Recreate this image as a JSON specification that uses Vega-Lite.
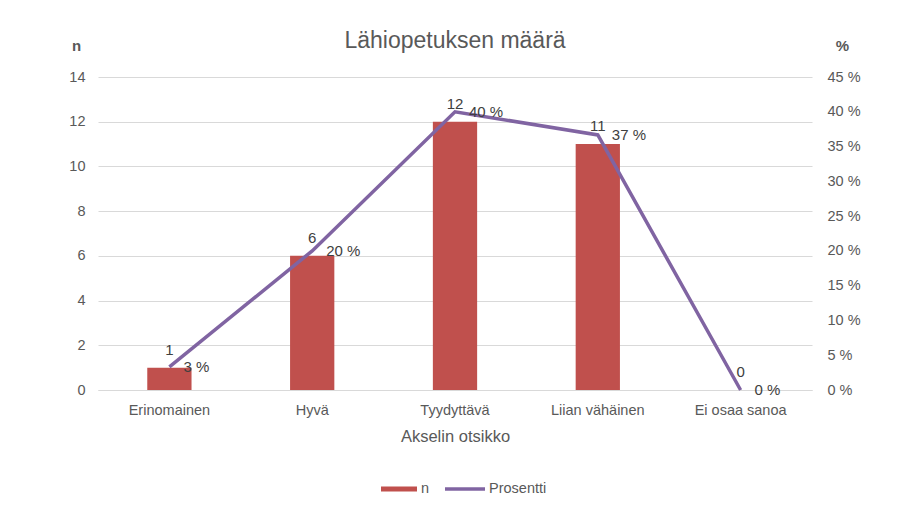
{
  "$schema": "https://vega.github.io/schema/vega-lite/v6.json",
  "width": 714,
  "height": 313,
  "autosize": {"type": "none"},
  "padding": {"left": 98, "top": 77, "right": 94, "bottom": 123},
  "background": "white",
  "config": {
    "font": "Liberation Sans",
    "view": {"stroke": null},
    "axis": {"labelColor": "#595959", "titleColor": "#595959", "labelFontSize": 14.5, "titleFontWeight": "normal", "ticks": false, "domain": false, "labelFont": "Liberation Sans", "titleFont": "Liberation Sans", "labelOverlap": false},
    "legend": {"labelColor": "#595959", "labelFontSize": 14.5, "labelFont": "Liberation Sans"}
  },
  "title": {"text": "Lähiopetuksen määrä", "fontSize": 23, "fontWeight": "normal", "color": "#595959", "anchor": "middle", "frame": "group", "font": "Liberation Sans", "dy": 19},
  "data": {
    "values": [
      {"Kategoria": "Erinomainen", "n": 1, "Prosentti": 3.33},
      {"Kategoria": "Hyvä", "n": 6, "Prosentti": 20},
      {"Kategoria": "Tyydyttävä", "n": 12, "Prosentti": 40},
      {"Kategoria": "Liian vähäinen", "n": 11, "Prosentti": 36.67},
      {"Kategoria": "Ei osaa sanoa", "n": 0, "Prosentti": 0}
    ]
  },
  "transform": [{"calculate": "format(datum.Prosentti, '.0f') + ' %'", "as": "pctLabel"}],
  "encoding": {
    "x": {
      "field": "Kategoria", "type": "nominal", "sort": null,
      "scale": {"paddingInner": 0, "paddingOuter": 0},
      "axis": {"labelAngle": 0, "title": "Akselin otsikko", "titleFontSize": 16.5, "labelPadding": 13, "titlePadding": 12, "domain": true, "domainColor": "#D9D9D9", "domainWidth": 1}
    }
  },
  "layer": [
    {
      "layer": [
        {
          "mark": {"type": "bar", "width": {"band": 0.31}},
          "encoding": {
            "y": {"field": "n", "type": "quantitative", "scale": {"domain": [0, 14]},
              "axis": {"values": [0, 2, 4, 6, 8, 10, 12, 14], "title": "n", "titleAngle": 0, "titleFontSize": 15, "titleFontWeight": "bold", "titleX": -22, "titleY": -32, "titleAlign": "center", "titleBaseline": "middle", "labelPadding": 13, "grid": true, "gridColor": "#D9D9D9", "gridWidth": 1}},
            "fill": {"datum": "n", "type": "nominal", "scale": {"range": ["#C0504D"]},
              "legend": {"title": null, "orient": "none", "legendX": 283, "legendY": 394, "symbolType": "M-1,-0.14H1V0.14H-1Z", "symbolSize": 1296, "symbolStrokeWidth": 0, "labelOffset": 4}}
          }
        },
        {
          "mark": {"type": "text", "dy": -18, "fontSize": 15, "color": "#404040", "font": "Liberation Sans"},
          "encoding": {
            "y": {"field": "n", "type": "quantitative"},
            "text": {"field": "n", "type": "quantitative"}
          }
        }
      ]
    },
    {
      "layer": [
        {
          "mark": {"type": "line", "strokeWidth": 3.5},
          "encoding": {
            "y": {"field": "Prosentti", "type": "quantitative", "scale": {"domain": [0, 45], "nice": false},
              "axis": {"orient": "right", "values": [0, 5, 10, 15, 20, 25, 30, 35, 40, 45], "tickCount": 10, "labelOverlap": false, "labelBound": false, "labelExpr": "datum.value + ' %'", "title": "%", "titleAngle": 0, "titleFontSize": 15, "titleFontWeight": "bold", "titleX": 30, "titleY": -32, "titleAlign": "center", "titleBaseline": "middle", "labelPadding": 15, "grid": false}},
            "stroke": {"datum": "Prosentti", "type": "nominal", "scale": {"range": ["#8064A2"]},
              "legend": {"title": null, "orient": "none", "legendX": 345, "legendY": 390, "symbolType": "stroke", "symbolSize": 1600, "symbolStrokeWidth": 3.5, "labelOffset": 2}}
          }
        },
        {
          "mark": {"type": "text", "align": "left", "baseline": "middle", "dx": 14, "fontSize": 15, "color": "#404040", "font": "Liberation Sans"},
          "encoding": {
            "y": {"field": "Prosentti", "type": "quantitative"},
            "text": {"field": "pctLabel", "type": "nominal"}
          }
        }
      ]
    }
  ],
  "resolve": {"scale": {"y": "independent", "fill": "independent", "stroke": "independent"}}
}
